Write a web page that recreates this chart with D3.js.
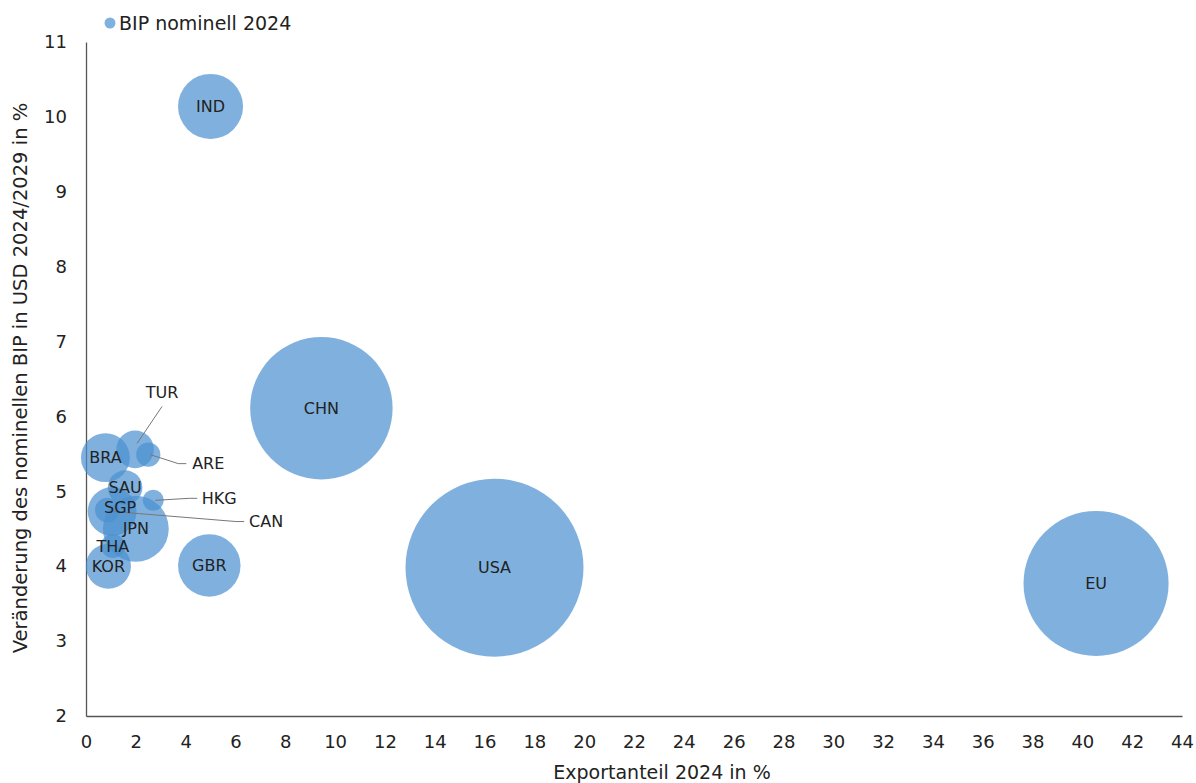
<!DOCTYPE html>
<html>
<head>
<meta charset="utf-8">
<script src="https://cdn.jsdelivr.net/npm/d3@7"></script>
<style>
  body { margin: 0; background: #fff; }
  text { font-family: "DejaVu Sans", sans-serif; fill: #222; }
</style>
</head>
<body>
<div id="chart"></div>
<script>
// countries, export share 2024 (%), nominal GDP growth 2024/2029 (%), nominal GDP 2024 (tn USD)
const countries = ["USA", "EU", "CHN", "IND", "JPN", "GBR", "CAN", "BRA", "KOR", "TUR", "SAU", "SGP", "ARE", "THA", "HKG"];
const exportShare = [16.4, 40.55, 9.45, 5.0, 2.0, 4.95, 1.05, 0.78, 0.9, 1.97, 1.57, 0.85, 2.5, 1.08, 2.7];
const gdpGrowth = [3.98, 3.77, 6.11, 10.14, 4.5, 4.01, 4.73, 5.45, 4.0, 5.56, 5.05, 4.75, 5.49, 4.27, 4.88];
const gdpNominal = [29.2, 19.4, 18.7, 3.9, 4.0, 3.6, 2.2, 2.2, 1.87, 1.3, 1.1, 0.55, 0.54, 0.53, 0.41];

const xTicks = d3.range(0, 45, 2);
const yTicks = d3.range(2, 12, 1);

// label placement (pixel offsets from the bubble centre), leader line when moved
const labelOffset = {
  TUR: [27, -57, true], ARE: [60, 9, true], HKG: [66, -2, true],
  CAN: [154, 10, true], SGP: [13, -3, false], THA: [0, 0, false]
};

const W = 1196, H = 783;
const margin = {top: 42, right: 14, bottom: 67, left: 86};

const svg = d3.select("#chart").append("svg")
    .attr("width", W).attr("height", H);

const x = d3.scaleLinear().domain([0, 44]).range([margin.left, W - margin.right]);
const y = d3.scaleLinear().domain([2, 11]).range([H - margin.bottom, margin.top]);
const r = d3.scaleSqrt().domain([0, d3.max(gdpNominal)]).range([0, 89]);

const data = countries.map((c, i) => ({name: c, x: exportShare[i], y: gdpGrowth[i], v: gdpNominal[i]}));

// axes
svg.append("g")
  .attr("transform", `translate(0,${y(2)})`)
  .call(d3.axisBottom(x).tickValues(xTicks).tickSize(0).tickPadding(19))
  .call(g => g.select(".domain").attr("stroke", "#555").attr("stroke-width", 1.3))
  .call(g => g.selectAll("text").attr("font-size", 18).style("font-family", "DejaVu Sans").attr("fill", "#222"));

svg.append("g")
  .attr("transform", `translate(${x(0)},0)`)
  .call(d3.axisLeft(y).tickValues(yTicks).tickSize(0).tickPadding(19))
  .call(g => g.select(".domain").attr("stroke", "#555").attr("stroke-width", 1.3))
  .call(g => g.selectAll("text").attr("font-size", 18).style("font-family", "DejaVu Sans").attr("fill", "#222"));

// bubbles
svg.append("g")
  .selectAll("circle")
  .data(data)
  .join("circle")
    .attr("cx", d => x(d.x))
    .attr("cy", d => y(d.y))
    .attr("r", d => r(d.v))
    .attr("fill", "#4a90d0")
    .attr("fill-opacity", 0.7);

// leader lines
svg.append("g")
  .selectAll("path")
  .data(data.filter(d => labelOffset[d.name] && labelOffset[d.name][2]))
  .join("path")
    .attr("d", d => {
      const o = labelOffset[d.name];
      const x0 = x(d.x), y0 = y(d.y);
      const lx = x0 + o[0], ly = y0 + o[1];
      if (d.name === "TUR") return `M${x0 + 2},${y0 - 6}L${lx},${ly + 14}`;
      return `M${x0 + 2},${y0}L${lx - 30},${ly}L${lx - 22},${ly}`;
    })
    .attr("fill", "none")
    .attr("stroke", "#777")
    .attr("stroke-width", 1);

// labels
svg.append("g")
  .selectAll("text")
  .data(data)
  .join("text")
    .attr("x", d => x(d.x) + (labelOffset[d.name] ? labelOffset[d.name][0] : 0))
    .attr("y", d => y(d.y) + (labelOffset[d.name] ? labelOffset[d.name][1] : 0))
    .attr("dy", "0.35em")
    .attr("text-anchor", "middle")
    .attr("font-size", 16)
    .text(d => d.name);

// legend
svg.append("circle").attr("cx", 110).attr("cy", 23).attr("r", 5.5).attr("fill", "#7fb1de");
svg.append("text").attr("x", 119).attr("y", 23).attr("dy", "0.35em")
  .attr("font-size", 19).text("BIP nominell 2024");

// axis titles
svg.append("text")
  .attr("x", 662).attr("y", 779)
  .attr("text-anchor", "middle")
  .attr("font-size", 19)
  .text("Exportanteil 2024 in %");

svg.append("text")
  .attr("transform", "translate(27,378) rotate(-90)")
  .attr("text-anchor", "middle")
  .attr("font-size", 19.5)
  .text("Veränderung des nominellen BIP in USD 2024/2029 in %");
</script>
</body>
</html>
